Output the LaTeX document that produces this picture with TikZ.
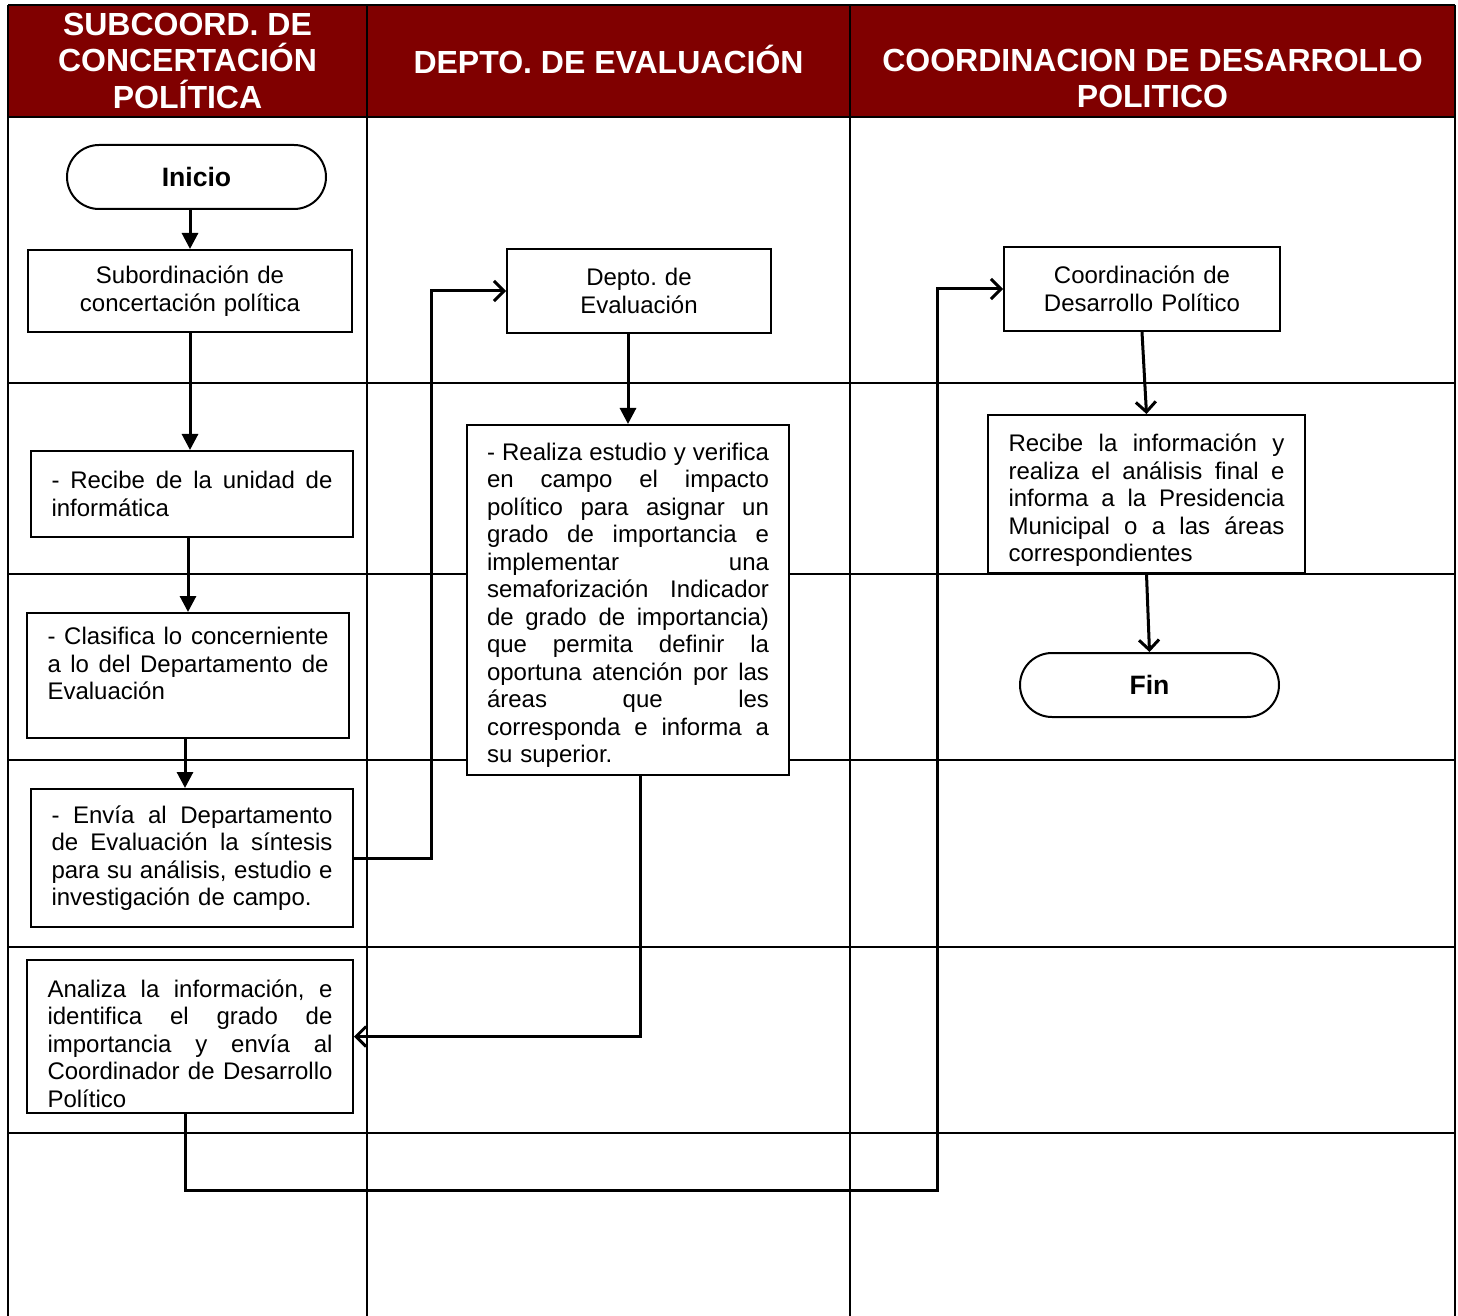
\documentclass[tikz,border=0pt]{standalone}
\usepackage{fontspec}
\setmainfont{Liberation Sans}
\usetikzlibrary{arrows.meta}
\definecolor{guinda}{RGB}{128,0,0}
\setlength{\parindent}{0pt}
\frenchspacing
% one justified line of a box: the words are spread over the given width
\ExplSyntaxOn
\NewDocumentCommand{\jl}{O{140.5pt}m}
	{
		\seq_set_split:Nnn \l_tmpa_seq { ~ } { #2 }
		\mode_leave_vertical:
		\hbox_to_wd:nn { #1 } { \seq_use:Nn \l_tmpa_seq { \hfill } }
		\par
	}
\ExplSyntaxOff
\tikzset{
	paso/.style={draw, fill=white, line width=1pt, font=\fontsize{12}{13.75}\selectfont, inner xsep=10.25pt, inner ysep=2pt},
	terminal/.style={draw, fill=white, rounded corners=16pt, line width=1pt, minimum width=129.5pt, minimum height=32pt, font=\fontsize{13.3}{15}\selectfont\bfseries},
	titulo/.style={text=white, font=\fontsize{16}{18.25}\selectfont\bfseries, align=center},
	flecha/.style={line width=1.5pt, -{Triangle[length=8pt,width=8pt]}},
	abierta/.style={line width=1.5pt, -{Straight Barb[length=5pt,width=10pt]}},
	rejilla/.style={line width=1pt}
}
\begin{document}
\begin{tikzpicture}[x=0.5pt,y=-0.5pt]
		\useasboundingbox (0,0) rectangle (1458,1316);
		% Draws the dark red header band
		\fill [guinda] (8,5) rectangle (1455,117);
		% Draws the lanes and the rows of the table
		\draw [rejilla] (8,5) -- (1455,5);
		\draw [rejilla] (8,117) -- (1455,117);
		\draw [rejilla] (8,383) -- (1455,383);
		\draw [rejilla] (8,574) -- (1455,574);
		\draw [rejilla] (8,760) -- (1455,760);
		\draw [rejilla] (8,947) -- (1455,947);
		\draw [rejilla] (8,1133) -- (1455,1133);
		\draw [rejilla] (8,5) -- (8,1316);
		\draw [rejilla] (367,5) -- (367,1316);
		\draw [rejilla] (850,5) -- (850,1316);
		\draw [rejilla] (1455,5) -- (1455,1316);
		% Prints the lane titles
		\node [titulo] (t1) at (187.5,60.5) {SUBCOORD. DE\\CONCERTACIÓN\\POLÍTICA};
		\node [titulo] (t2) at (608.5,59) {DEPTO. DE EVALUACIÓN};
		\node [titulo] (t3) at (1152.5,78.5) {COORDINACION DE DESARROLLO\\POLITICO};
		% Steps of the first lane
		\node [terminal] (inicio) at (196.5,177) {Inicio};
		\node [paso, text width=141.5pt, align=center, minimum height=41pt] (sub) at (190,291) {Subordinación de\\concertación política};
		\node [paso, text width=140.5pt, minimum height=43pt] (recibe) at (192,494) {\jl{- Recibe de la unidad de}informática\par};
		\node [paso, text width=140.5pt, minimum height=62.5pt] (clasifica) at (188,675.5) {\jl{- Clasifica lo concerniente}\jl{a lo del Departamento de}Evaluación\par\vspace{-2pt}\mbox{}};
		\node [paso, text width=140.5pt, minimum height=69pt] (envia) at (192,858) {\jl{- Envía al Departamento}\jl{de Evaluación la síntesis}\jl{para su análisis, estudio e}investigación de campo.\par};
		\node [paso, text width=142.5pt, minimum height=76.5pt, text height=16pt] (analiza) at (190,1036.5) {\jl[142.5pt]{Analiza la información, e}\jl[142.5pt]{identifica el grado de}\jl[142.5pt]{importancia y envía al}\jl[142.5pt]{Coordinador de Desarrollo}Político\par};
		% Steps of the second lane
		\node [paso, text width=111.5pt, align=center, minimum height=42pt] (depto) at (639,291) {Depto. de\\Evaluación};
		\node [paso, text width=141pt, inner xsep=10pt, minimum height=175pt, text height=13.8pt] (realiza) at (628,600) {\jl[141pt]{- Realiza estudio y verifica}\jl[141pt]{en campo el impacto}\jl[141pt]{político para asignar un}\jl[141pt]{grado de importancia e}\jl[141pt]{implementar una}\jl[141pt]{semaforización Indicador}\jl[141pt]{de grado de importancia)}\jl[141pt]{que permita definir la}\jl[141pt]{oportuna atención por las}\jl[141pt]{áreas que les}\jl[141pt]{corresponda e informa a}su superior.\par};
		% Steps of the third lane
		\node [paso, text width=117.5pt, align=center, minimum height=42pt] (coord) at (1142,289) {Coordinación de\\Desarrollo Político};
		\node [paso, text width=138pt, minimum height=79pt, text height=15.3pt] (recinfo) at (1146.5,494) {\jl[138pt]{Recibe la información y}\jl[138pt]{realiza el análisis final e}\jl[138pt]{informa a la Presidencia}\jl[138pt]{Municipal o a las áreas}correspondientes\par};
		\node [terminal] (fin) at (1149.5,685) {Fin};
		% Draws the arrows between the steps
		\draw [flecha] (inicio.south -| sub.north) -- (sub.north);
		\draw [flecha] (sub.south) -- (sub.south |- recibe.north);
		\draw [flecha] (recibe.south -| clasifica.north) -- (clasifica.north);
		\draw [flecha] ([xshift=-1.5pt]clasifica.south) -- ([xshift=-1.5pt]clasifica.south |- envia.north);
		\draw [abierta] (envia.east) -- ++(77,0) |- (depto.west);
		\draw [flecha] (depto.south -| realiza.north) -- (realiza.north);
		\draw [abierta] ([xshift=6pt]realiza.south) |- (analiza.east);
		\coordinate (vuelta) at (937,1190);
		\draw [abierta] ([xshift=-2.5pt]analiza.south) |- (vuelta) |- (coord.west);
		\draw [abierta] (coord.south) -- (recinfo.north);
		\draw [abierta] (recinfo.south) -- (fin.north);
\end{tikzpicture}
\end{document}
